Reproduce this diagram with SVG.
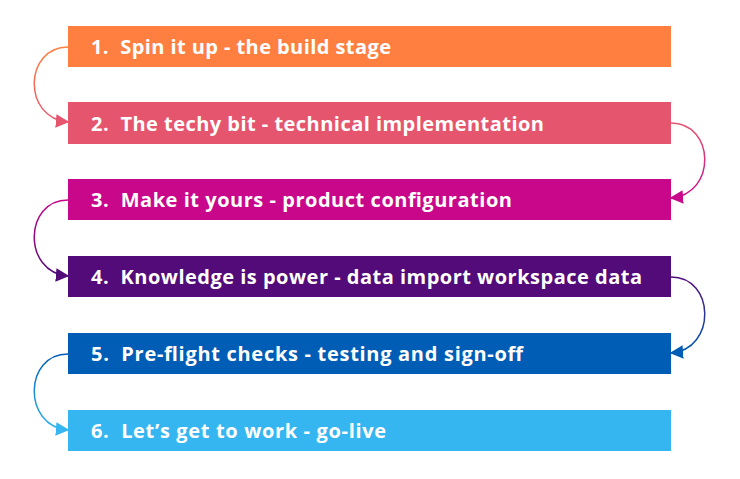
<svg xmlns="http://www.w3.org/2000/svg" width="740" height="479" viewBox="0 0 740 479">
<style>
.lbl{font-family:"Open Sans",Lato,sans-serif;font-weight:700;font-size:20px;fill:#fff;white-space:pre}
.c{fill:none;stroke-width:1.5}
</style>
<defs>
<linearGradient id="g1" gradientUnits="userSpaceOnUse" x1="0" y1="47" x2="0" y2="122"><stop offset="0" stop-color="#FF7F41"/><stop offset="1" stop-color="#E5566E"/></linearGradient>
<linearGradient id="g2" gradientUnits="userSpaceOnUse" x1="0" y1="123" x2="0" y2="198"><stop offset="0" stop-color="#E5566E"/><stop offset="1" stop-color="#C8078A"/></linearGradient>
<linearGradient id="g3" gradientUnits="userSpaceOnUse" x1="0" y1="200" x2="0" y2="276"><stop offset="0" stop-color="#C8078A"/><stop offset="1" stop-color="#520B79"/></linearGradient>
<linearGradient id="g4" gradientUnits="userSpaceOnUse" x1="0" y1="277" x2="0" y2="353"><stop offset="0" stop-color="#520B79"/><stop offset="1" stop-color="#005DB5"/></linearGradient>
<linearGradient id="g5" gradientUnits="userSpaceOnUse" x1="0" y1="354" x2="0" y2="430"><stop offset="0" stop-color="#005DB5"/><stop offset="1" stop-color="#35B6F0"/></linearGradient>
<marker id="m1" viewBox="0 0 10 10" refX="9" refY="5" markerWidth="9" markerHeight="9" markerUnits="strokeWidth" orient="auto"><path d="M0,0L10,5L0,10z" fill="#E5566E"/></marker>
<marker id="m2" viewBox="0 0 10 10" refX="9" refY="5" markerWidth="9" markerHeight="9" markerUnits="strokeWidth" orient="auto"><path d="M0,0L10,5L0,10z" fill="#C8078A"/></marker>
<marker id="m3" viewBox="0 0 10 10" refX="9" refY="5" markerWidth="9" markerHeight="9" markerUnits="strokeWidth" orient="auto"><path d="M0,0L10,5L0,10z" fill="#520B79"/></marker>
<marker id="m4" viewBox="0 0 10 10" refX="9" refY="5" markerWidth="9" markerHeight="9" markerUnits="strokeWidth" orient="auto"><path d="M0,0L10,5L0,10z" fill="#005DB5"/></marker>
<marker id="m5" viewBox="0 0 10 10" refX="9" refY="5" markerWidth="9" markerHeight="9" markerUnits="strokeWidth" orient="auto"><path d="M0,0L10,5L0,10z" fill="#35B6F0"/></marker>
</defs>
<rect width="740" height="479" fill="#fff"/>
<g id="connectors">
<path class="c" stroke="url(#g1)" d="M68,47 C24,47 22,118 68,122" marker-end="url(#m1)"/>
<path class="c" stroke="url(#g2)" d="M671,123 C715,123 717,194 671,198" marker-end="url(#m2)"/>
<path class="c" stroke="url(#g3)" d="M68,200 C24,200 22,272 68,276" marker-end="url(#m3)"/>
<path class="c" stroke="url(#g4)" d="M671,277 C715,277 717,349 671,353" marker-end="url(#m4)"/>
<path class="c" stroke="url(#g5)" d="M68,354 C24,354 22,426 68,430" marker-end="url(#m5)"/>
</g>
<g id="n1"><rect x="68" y="26" width="603" height="41" fill="#FF7F41"/><text class="lbl" x="91" y="54" textLength="300" lengthAdjust="spacing" xml:space="preserve">1.  Spin it up - the build stage</text></g>
<g id="n2"><rect x="68" y="102" width="603" height="42" fill="#E5566E"/><text class="lbl" x="91" y="131" textLength="453" lengthAdjust="spacing" xml:space="preserve">2.  The techy bit - technical implementation</text></g>
<g id="n3"><rect x="68" y="179" width="603" height="41" fill="#C8078A"/><text class="lbl" x="91" y="207" textLength="421" lengthAdjust="spacing" xml:space="preserve">3.  Make it yours - product configuration</text></g>
<g id="n4"><rect x="68" y="256" width="603" height="41" fill="#520B79"/><text class="lbl" x="91" y="284" textLength="551" lengthAdjust="spacing" xml:space="preserve">4.  Knowledge is power - data import workspace data</text></g>
<g id="n5"><rect x="68" y="333" width="603" height="41" fill="#005DB5"/><text class="lbl" x="91" y="361" textLength="432" lengthAdjust="spacing" xml:space="preserve">5.  Pre-flight checks - testing and sign-off</text></g>
<g id="n6"><rect x="68" y="410" width="603" height="41" fill="#35B6F0"/><text class="lbl" x="91" y="438" textLength="295" lengthAdjust="spacing" xml:space="preserve">6.  Let’s get to work - go-live</text></g>
</svg>
